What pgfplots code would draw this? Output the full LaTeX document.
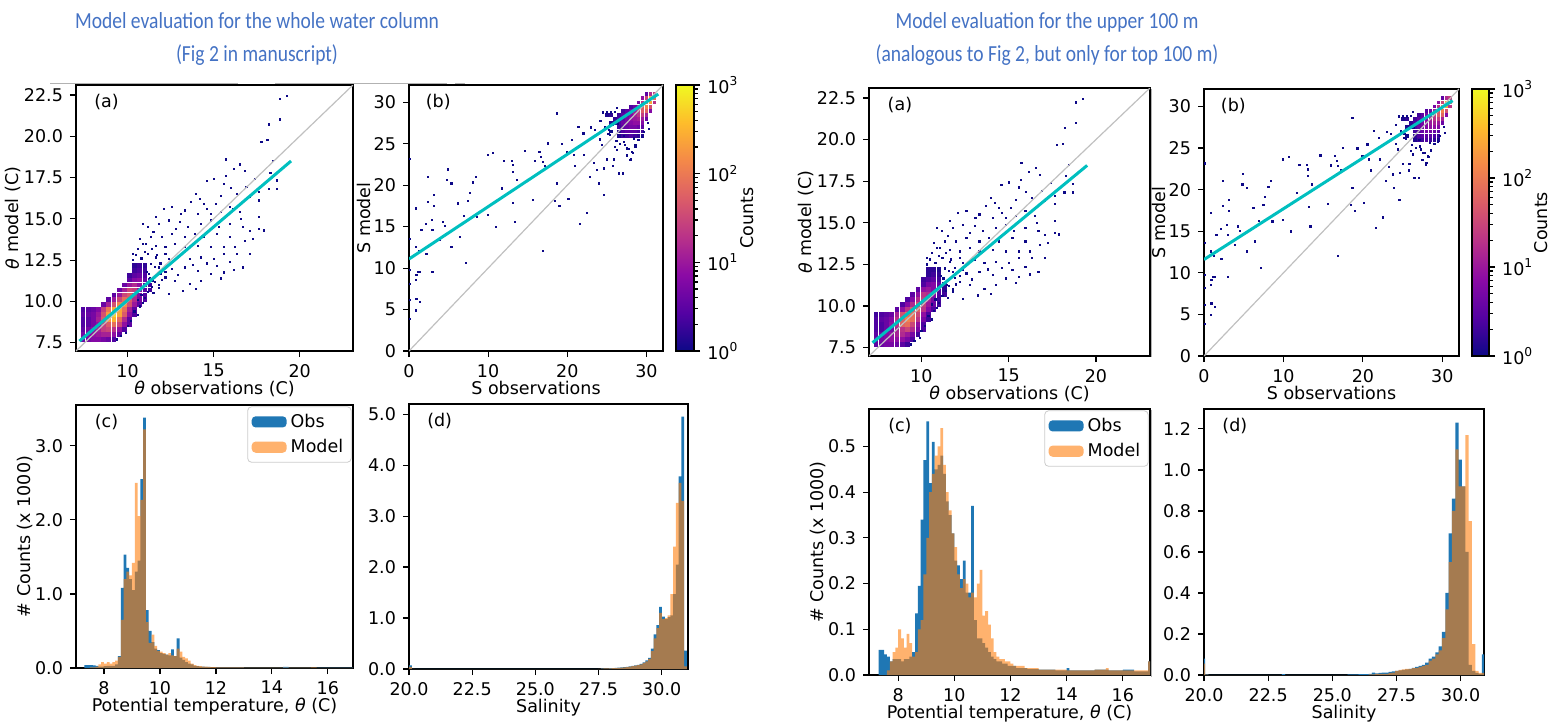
\documentclass[border=0pt]{standalone}
\usepackage{fontspec}
\setmainfont{DejaVu Sans}
\newfontfamily\titlefont{Carlito}
\usepackage{pgfplots}
\usepackage{pgfplotstable}
\pgfplotsset{compat=1.18}

\definecolor{obsblue}{RGB}{31,119,180}
\definecolor{modorange}{RGB}{255,127,14}
\definecolor{fitcyan}{RGB}{0,191,191}
\definecolor{oneone}{RGB}{192,192,192}
\definecolor{titleblue}{RGB}{68,114,196}
\definecolor{plasmalow}{RGB}{13,8,135}

\newcommand{\fs}{\fontsize{8.75}{10}\selectfont}
\newcommand{\tfs}{\titlefont\fontsize{11.5}{13}\selectfont}
\newcommand{\ttl}[1]{\scalebox{0.85}[1]{#1}}

\pgfplotsset{
  colormap={plasma}{rgb255=(13,8,135) rgb255=(84,2,163) rgb255=(139,10,165) rgb255=(185,50,137) rgb255=(219,92,104) rgb255=(244,136,73) rgb255=(254,188,43) rgb255=(240,249,33)},
  panel/.style={scale only axis, anchor=south west, tick pos=left, tick align=outside,
    major tick length=3pt, every tick/.style={black, line width=0.6pt},
    axis line style={line width=0.8pt}, tick label style={font=\fs}, label style={font=\fs},
    xlabel shift=-5pt, ylabel shift=-5.5pt, clip marker paths=true,
    /pgf/number format/assume math mode=true, scaled ticks=false},
  onedec/.style={#1ticklabel style={/pgf/number format/.cd, fixed, fixed zerofill, precision=1}},
  colorbar shift/.style={xshift=6pt},
  cbar/.style={colorbar, point meta min=0, point meta max=3,
    colorbar style={width=#1, scale only axis,
      ytick={0,1,2,3}, yticklabels={10\textsuperscript{0},10\textsuperscript{1},10\textsuperscript{2},10\textsuperscript{3}},
      minor ytick={0.301,0.477,0.602,0.699,0.778,0.845,0.903,0.954,1.301,1.477,1.602,1.699,1.778,1.845,1.903,1.954,2.301,2.477,2.602,2.699,2.778,2.845,2.903,2.954},
      ytick pos=right, yticklabel pos=right, tick align=outside, major tick length=3pt, minor tick length=1.8pt,
      every tick/.style={black, line width=0.6pt}, axis line style={line width=0.8pt},
      tick label style={font=\fs}, ylabel={Counts}, ylabel style={font=\fs}, ylabel shift=-6pt}},
  dens/.style={scatter, only marks, mark=square*, mark size=#1, scatter src=explicit,
    scatter/use mapped color={draw=mapped color, fill=mapped color}},
  lone/.style={only marks, mark=square*, mark size=0.3pt, plasmalow},
  hleg/.style={legend style={at={(0.995,0.995)}, anchor=north east, draw=black!20, rounded corners=2pt,
    font=\fs, inner xsep=2pt, inner ysep=1.5pt, row sep=0.5pt}, legend cell align=left},
  obsbar/.style={ybar interval, fill=obsblue, draw=none,
    legend image code/.code={\fill[fill=obsblue] (0pt,-2.8pt) rectangle (17.5pt,2.8pt);}},
  modbar/.style={ybar interval, fill=modorange, fill opacity=0.6, draw=none,
    legend image code/.code={\fill[fill=modorange, fill opacity=0.6] (0pt,-2.8pt) rectangle (17.5pt,2.8pt);}},
}

% theta 2D histogram, dense part (x, y, log10 count whole column, top 100 m)
\pgfplotstableread{
x y cl cr
7.4 7.7 0.6 0.5
7.7 7.7 0.7 0.6
8.0 7.7 0.8 0.7
8.3 7.7 0.8 0.7
8.6 7.7 0.7 0.6
8.9 7.7 0.6 0.5
9.2 7.7 0.4 0.3
7.4 8.0 0.7 0.6
7.7 8.0 0.8 0.7
8.0 8.0 0.9 0.8
8.3 8.0 1.0 0.9
8.6 8.0 1.1 0.9
8.9 8.0 1.1 0.9
9.2 8.0 0.9 0.7
9.5 8.0 0.5 0.4
7.4 8.3 0.5 0.5
7.7 8.3 0.7 0.6
8.0 8.3 0.9 0.8
8.3 8.3 1.1 0.9
8.6 8.3 1.4 1.1
8.9 8.3 1.5 1.2
9.2 8.3 1.3 1.0
9.5 8.3 0.9 0.7
9.8 8.3 0.4 0.3
7.4 8.6 0.4 0.4
7.7 8.6 0.5 0.4
8.0 8.6 0.7 0.6
8.3 8.6 0.9 0.7
8.6 8.6 1.4 1.1
8.9 8.6 1.7 1.3
9.2 8.6 1.9 1.5
9.5 8.6 1.5 1.2
9.8 8.6 0.9 0.7
10.1 8.6 0.5 0.4
7.4 8.9 0.4 0.4
7.7 8.9 0.5 0.4
8.0 8.9 0.7 0.6
8.3 8.9 1.1 0.9
8.6 8.9 1.7 1.3
8.9 8.9 2.3 1.8
9.2 8.9 2.5 1.9
9.5 8.9 1.9 1.5
9.8 8.9 1.2 0.9
10.1 8.9 0.5 0.4
7.4 9.2 0.5 0.4
7.7 9.2 0.6 0.5
8.0 9.2 0.7 0.6
8.3 9.2 1.0 0.8
8.6 9.2 1.6 1.3
8.9 9.2 2.3 1.8
9.2 9.2 2.8 2.1
9.5 9.2 2.4 1.9
9.8 9.2 1.7 1.3
10.1 9.2 0.9 0.7
10.4 9.2 0.4 0.3
7.4 9.5 0.4 0.3
7.7 9.5 0.5 0.4
8.0 9.5 0.6 0.5
8.3 9.5 0.8 0.6
8.6 9.5 1.4 1.1
8.9 9.5 2.0 1.6
9.2 9.5 2.4 1.9
9.5 9.5 2.4 1.9
9.8 9.5 1.9 1.5
10.1 9.5 1.1 0.9
10.4 9.5 0.5 0.4
8.6 9.8 0.6 0.5
8.9 9.8 1.1 0.9
9.2 9.8 1.6 1.3
9.5 9.8 2.1 1.7
9.8 9.8 2.2 1.8
10.1 9.8 1.6 1.3
10.4 9.8 1.0 0.8
10.7 9.8 0.5 0.4
8.9 10.1 0.5 0.4
9.2 10.1 1.0 0.8
9.5 10.1 1.5 1.2
9.8 10.1 1.9 1.6
10.1 10.1 1.7 1.4
10.4 10.1 1.2 1.0
10.7 10.1 0.7 0.6
11.0 10.1 0.4 0.3
9.2 10.4 0.5 0.4
9.5 10.4 1.0 0.8
9.8 10.4 1.5 1.2
10.1 10.4 1.7 1.4
10.4 10.4 1.3 1.1
10.7 10.4 0.8 0.7
11.0 10.4 0.4 0.3
9.5 10.7 0.6 0.5
9.8 10.7 1.1 0.9
10.1 10.7 1.5 1.3
10.4 10.7 1.4 1.2
10.7 10.7 0.9 0.8
11.0 10.7 0.5 0.4
11.3 10.7 0.3 0.3
9.8 11.0 0.6 0.5
10.1 11.0 1.0 0.9
10.4 11.0 1.2 1.0
10.7 11.0 0.9 0.8
11.0 11.0 0.5 0.4
11.3 11.0 0.3 0.2
10.1 11.3 0.5 0.4
10.4 11.3 0.8 0.7
10.7 11.3 0.9 0.8
11.0 11.3 0.6 0.5
11.3 11.3 0.3 0.2
10.1 11.6 0.3 0.3
10.4 11.6 0.5 0.4
10.7 11.6 0.6 0.5
11.0 11.6 0.4 0.3
10.4 11.9 0.3 0.2
10.7 11.9 0.4 0.3
11.0 11.9 0.3 0.2
10.4 12.2 0.2 0.2
10.7 12.2 0.3 0.2
11.0 12.2 0.2 0.1
}\denseA

% theta 2D histogram, single counts
\pgfplotstableread{
x y
19.25 22.44
18.87 22.24
18.87 21.02
18.21 20.72
18.12 19.76
17.78 19.66
18.46 18.50
15.73 18.60
16.18 18.04
16.54 18.30
16.80 17.90
15.70 17.60
14.59 17.29
15.00 17.43
15.58 17.13
16.00 16.87
16.90 16.93
17.65 16.62
18.20 16.83
18.70 17.33
18.70 16.83
13.98 16.52
16.33 16.52
17.10 16.32
17.65 16.12
13.70 16.01
14.45 15.91
15.11 15.91
15.96 15.71
16.15 15.61
12.58 15.71
12.10 15.61
13.33 15.51
14.08 15.30
14.83 15.30
15.40 15.41
16.52 15.41
17.65 15.10
11.63 15.10
10.88 14.70
11.17 14.50
11.82 14.70
12.39 14.90
13.05 14.80
13.52 14.50
14.27 14.70
14.83 14.90
15.30 14.50
15.96 14.70
16.71 14.50
17.09 14.29
17.65 14.39
17.27 13.78
16.80 13.68
15.96 13.89
15.21 14.09
14.45 13.89
13.89 14.09
13.33 13.89
12.58 14.09
12.00 13.89
11.35 13.89
11.07 13.48
11.64 13.38
12.20 13.28
12.76 13.48
13.33 13.28
14.08 13.38
14.83 13.28
15.58 13.28
16.24 13.28
16.33 12.87
15.58 12.87
15.02 12.57
14.27 12.67
13.61 12.57
13.05 12.77
12.39 12.57
11.64 12.67
11.35 12.26
11.82 12.06
12.58 11.96
13.33 12.06
14.08 11.86
14.83 11.66
15.58 11.76
15.96 12.37
14.27 11.25
13.61 11.05
12.76 11.25
13.23 10.64
13.98 10.74
12.39 10.44
11.82 10.84
11.45 11.25
12.20 11.45
11.26 11.66
15.21 12.16
17.09 12.87
16.71 12.06
15.40 11.40
16.20 11.90
17.90 14.30
18.30 17.80
17.40 17.40
14.20 16.20
15.40 16.40
16.60 15.00
14.60 15.60
13.10 15.30
12.80 14.40
11.50 14.20
12.20 12.90
13.80 12.20
14.60 12.30
12.90 11.60
11.90 11.70
10.60 10.10
10.80 10.40
11.00 10.20
11.20 10.60
11.40 10.90
10.90 10.90
11.60 11.20
11.80 11.00
11.30 11.40
11.10 11.80
10.70 9.70
10.90 9.90
11.50 10.50
12.00 11.30
12.20 11.80
11.90 12.30
11.60 12.10
10.80 12.60
11.00 13.00
10.60 13.20
10.90 13.50
11.20 12.90
10.50 12.80
10.30 12.90
10.70 13.80
11.40 13.20
10.40 9.40
10.60 9.20
10.20 8.80
10.00 8.50
9.90 8.10
9.60 7.90
9.40 7.70
12.40 12.20
11.70 12.80
10.30 12.50
}\sparseA

% salinity 2D histogram, dense part
\pgfplotstableread{
x y cl cr
26.5 26.0 0.1 0.1
27.0 26.0 0.3 0.3
27.5 26.0 0.3 0.3
28.0 26.0 0.4 0.4
28.5 26.0 0.3 0.3
29.0 26.0 0.2 0.2
29.5 26.0 0.1 0.1
25.5 26.5 0.0 0.0
26.5 26.5 0.2 0.2
27.0 26.5 0.4 0.4
27.5 26.5 0.5 0.5
28.0 26.5 0.5 0.5
28.5 26.5 0.5 0.5
29.0 26.5 0.4 0.4
29.5 26.5 0.3 0.3
26.5 27.0 0.3 0.3
27.0 27.0 0.5 0.5
27.5 27.0 0.6 0.6
28.0 27.0 0.7 0.7
28.5 27.0 0.7 0.7
29.0 27.0 0.6 0.6
29.5 27.0 0.5 0.5
25.5 27.5 0.1 0.1
26.0 27.5 0.2 0.2
26.5 27.5 0.4 0.4
27.0 27.5 0.6 0.6
27.5 27.5 0.7 0.7
28.0 27.5 0.8 0.8
28.5 27.5 0.9 0.9
29.0 27.5 0.9 0.9
29.5 27.5 0.8 0.8
26.0 28.0 0.2 0.2
26.5 28.0 0.4 0.4
27.0 28.0 0.5 0.5
27.5 28.0 0.7 0.7
28.0 28.0 0.9 0.9
28.5 28.0 1.0 1.0
29.0 28.0 1.1 1.1
29.5 28.0 1.0 1.0
30.0 28.0 0.6 0.6
25.0 28.5 0.1 0.1
25.5 28.5 0.2 0.2
26.5 28.5 0.3 0.3
27.0 28.5 0.5 0.5
27.5 28.5 0.6 0.6
28.0 28.5 0.8 0.8
28.5 28.5 1.1 1.1
29.0 28.5 1.3 1.3
29.5 28.5 1.4 1.4
30.0 28.5 1.1 1.1
27.0 29.0 0.3 0.3
27.5 29.0 0.5 0.5
28.0 29.0 0.7 0.7
28.5 29.0 1.0 1.0
29.0 29.0 1.4 1.4
29.5 29.0 1.7 1.7
30.0 29.0 1.8 1.8
30.5 29.0 0.8 0.8
28.0 29.5 0.4 0.4
28.5 29.5 0.6 0.6
29.0 29.5 1.1 1.1
29.5 29.5 1.7 1.7
30.0 29.5 2.1 2.1
30.5 29.5 1.6 1.6
29.0 30.0 0.7 0.7
29.5 30.0 1.3 1.3
30.0 30.0 2.1 2.1
30.5 30.0 2.4 2.4
31.0 30.0 1.3 1.3
29.5 30.5 0.9 0.9
30.0 30.5 1.5 1.5
30.5 30.5 2.6 2.6
31.0 30.5 1.9 1.9
30.0 31.0 0.5 0.5
30.5 31.0 1.2 1.2
31.0 31.0 1.4 1.4
}\denseB

% salinity 2D histogram, single counts
\pgfplotstableread{
x y
0.08 23.16
0.08 13.57
0.08 9.75
0.08 8.14
0.08 6.12
0.08 3.90
0.84 17.20
0.84 12.57
0.93 9.14
1.14 9.54
0.84 8.54
0.93 6.32
0.84 4.91
1.35 5.92
1.35 9.54
1.27 12.08
1.56 14.58
2.11 15.30
2.20 11.68
2.41 21.02
2.41 18.00
2.96 14.58
2.92 15.79
3.13 18.81
3.13 17.48
2.96 9.54
4.31 15.59
4.52 15.06
3.89 13.37
4.94 21.91
4.82 20.62
5.37 20.22
5.37 12.57
6.21 17.80
6.42 13.77
7.18 10.63
6.93 16.27
7.48 18.12
7.69 19.09
8.11 20.34
8.41 21.02
8.62 16.19
9.93 16.39
9.93 23.64
10.65 23.92
10.98 14.98
11.70 19.61
12.00 22.96
12.97 22.96
13.10 22.43
13.10 21.63
13.18 17.88
13.39 15.59
13.60 20.62
14.66 24.12
15.63 18.28
15.93 22.92
16.48 24.04
16.69 23.44
16.90 22.84
17.19 22.31
16.90 12.08
17.53 25.05
18.46 18.12
18.67 28.67
18.67 20.22
19.01 17.48
19.31 24.97
19.94 24.04
20.15 18.40
20.57 25.45
20.79 23.64
21.00 22.31
21.42 27.06
21.63 15.38
22.05 26.26
22.14 23.64
22.48 16.67
22.90 21.02
22.98 26.98
23.32 22.71
23.53 26.66
23.74 21.83
23.95 20.22
24.17 25.53
24.38 24.85
24.59 18.81
24.67 22.03
25.01 23.12
25.22 26.66
25.43 26.06
25.77 22.31
25.86 23.12
26.07 24.65
26.28 24.24
26.36 27.47
26.49 21.43
27.04 21.43
27.12 25.94
27.33 24.85
27.55 24.45
27.97 23.04
28.31 23.92
28.60 24.65
28.47 25.65
29.66 26.46
24.50 28.80
25.00 28.80
25.50 28.80
26.00 28.90
26.30 29.30
25.80 27.30
24.80 27.00
25.20 26.20
26.20 25.40
27.20 25.20
27.80 24.40
28.20 24.00
28.60 24.80
29.00 25.50
29.40 25.80
28.00 23.20
27.50 23.60
26.70 25.00
24.20 27.80
30.20 27.50
30.30 26.80
}\sparseB

\begin{document}
\begin{tikzpicture}
\useasboundingbox (0,0) rectangle (776.5pt,362.5pt);

% titles
\node[font=\tfs, text=titleblue, anchor=base] at (128.5pt,348.5pt) {\ttl{Model evaluation for the whole water column}};
\node[font=\tfs, text=titleblue, anchor=base] at (128.5pt,331.5pt) {\ttl{(Fig 2 in manuscript)}};
\node[font=\tfs, text=titleblue, anchor=base] at (523.5pt,348.5pt) {\ttl{Model evaluation for the upper 100 m}};
\node[font=\tfs, text=titleblue, anchor=base] at (523.5pt,331.5pt) {\ttl{(analogous to Fig 2, but only for top 100 m)}};

% stray edges from the original screenshot
\draw[black!30, line width=0.5pt] (25pt,320.6pt) -- (119pt,320.6pt) (137.5pt,320.6pt) -- (223.5pt,320.6pt) (227.5pt,320.6pt) -- (232.5pt,320.6pt);
\draw[black!30, line width=0.5pt] (575.6pt,318pt) -- (575.6pt,184pt) (575.6pt,157.5pt) -- (575.6pt,24pt);

%% ---------------- left group: whole water column ----------------
\begin{axis}[panel, at={(38pt,187pt)}, width=138.5pt, height=133pt,
  xmin=7, xmax=23.1, ymin=7, ymax=23.1, xtick={10,15,20}, ytick={7.5,10,...,22.5}, onedec=y,
  point meta min=0, point meta max=3,
  xlabel={\textit{θ} observations (C)}, ylabel={\textit{θ} model (C)}]
\addplot[dens=0.95pt] table[x=x, y=y, meta=cl] {\denseA};
\addplot[lone] table[x=x, y=y] {\sparseA};
\addplot[oneone, line width=0.6pt] coordinates {(7,7) (23.1,23.1)};
\addplot[fitcyan, line width=1.5pt] coordinates {(7.2,7.6) (19.5,18.5)};
\node[font=\fs] at (rel axis cs:0.11,0.935) {(a)};
\end{axis}

\begin{axis}[panel, at={(204.5pt,187pt)}, width=127pt, height=133pt, cbar=9pt,
  xmin=0, xmax=32.1, ymin=0, ymax=32.1, xtick={0,10,20,30}, ytick={0,5,...,30},
  xlabel={S observations}, ylabel={S model}]
\addplot[dens=0.7pt] table[x=x, y=y, meta=cl] {\denseB};
\addplot[lone] table[x=x, y=y] {\sparseB};
\addplot[oneone, line width=0.6pt] coordinates {(0,0) (32.1,32.1)};
\addplot[fitcyan, line width=1.5pt] coordinates {(0,11.1) (31.5,31.0)};
\node[font=\fs] at (rel axis cs:0.115,0.935) {(b)};
\end{axis}

\begin{axis}[panel, hleg, at={(38pt,28.5pt)}, width=138.5pt, height=131.5pt,
  xmin=7, xmax=16.9, ymin=0, ymax=3.55, xtick={8,10,...,16}, ytick={0,1,2,3}, onedec=y,
  xlabel={Potential temperature, \textit{θ} (C)}, ylabel={\# Counts (x 1000)}]
\addplot[obsbar] coordinates {(7.3,0.04)(7.4,0.04)(7.5,0.04)(7.6,0.035)(7.7,0.03)(7.8,0.02)(7.9,0.02)(8.0,0.025)(8.1,0.03)(8.2,0.03)(8.3,0.03)(8.4,0.05)(8.5,0.16)(8.6,1.08)(8.7,1.53)(8.8,1.35)(8.9,1.2)(9.0,1.05)(9.1,1.3)(9.2,1.45)(9.3,2.55)(9.4,3.38)(9.5,0.78)(9.6,0.5)(9.7,0.35)(9.8,0.26)(9.9,0.24)(10.0,0.2)(10.1,0.19)(10.2,0.18)(10.3,0.17)(10.4,0.25)(10.5,0.16)(10.6,0.4)(10.7,0.14)(10.8,0.11)(10.9,0.08)(11.0,0.06)(11.1,0.05)(11.2,0.03)(11.3,0.025)(11.4,0.02)(11.5,0.02)(11.6,0.015)(11.8,0.01)(12.0,0.008)(13.0,0.005)(14.4,0.015)(14.6,0.004)(16.9,0.004)(17.0,0)};
\addlegendentry{Obs}
\addplot[modbar] coordinates {(7.3,0)(7.5,0.01)(7.7,0.02)(7.8,0.05)(7.9,0.08)(8.0,0.06)(8.1,0.08)(8.2,0.06)(8.3,0.08)(8.4,0.1)(8.5,0.15)(8.6,0.65)(8.7,1.2)(8.8,1.3)(8.9,1.25)(9.0,1.42)(9.1,2.5)(9.2,2.05)(9.3,2.27)(9.4,3.22)(9.5,0.62)(9.6,0.34)(9.7,0.45)(9.8,0.3)(9.9,0.23)(10.0,0.22)(10.1,0.2)(10.2,0.18)(10.3,0.2)(10.4,0.17)(10.5,0.16)(10.6,0.26)(10.7,0.22)(10.8,0.15)(10.9,0.13)(11.0,0.1)(11.1,0.06)(11.2,0.04)(11.3,0.03)(11.4,0.025)(11.5,0.02)(11.6,0.02)(11.7,0.015)(11.8,0.012)(12.0,0.01)(13.0,0.006)(14.0,0.004)(15.4,0.01)(15.6,0.003)(16.9,0.003)(17.0,0)};
\addlegendentry{Model}
\node[font=\fs] at (rel axis cs:0.11,0.935) {(c)};
\end{axis}

\begin{axis}[panel, at={(204.5pt,28pt)}, width=139.5pt, height=132.5pt,
  xmin=20, xmax=31.04, ymin=0, ymax=5.2, xtick={20,22.5,...,30}, ytick={0,1,...,5}, onedec=x, onedec=y,
  xlabel={Salinity}]
\addplot[obsbar] coordinates {(20.00,0.07)(20.11,0.005)(20.22,0.001)(27.48,0.005)(27.59,0.01)(27.70,0.012)(27.81,0.012)(27.92,0.015)(28.03,0.018)(28.14,0.02)(28.25,0.025)(28.36,0.03)(28.47,0.035)(28.58,0.04)(28.69,0.05)(28.80,0.06)(28.91,0.07)(29.02,0.08)(29.13,0.10)(29.24,0.13)(29.35,0.17)(29.46,0.22)(29.57,0.40)(29.68,0.68)(29.79,0.86)(29.90,1.22)(30.01,1.03)(30.12,0.98)(30.23,1.02)(30.34,1.05)(30.45,1.47)(30.56,2.05)(30.67,3.78)(30.78,4.95)(30.89,0.36)(31.00,0)};
\addplot[modbar] coordinates {(20.00,0.04)(20.11,0.003)(20.22,0)(27.48,0.004)(27.59,0.008)(27.70,0.01)(27.81,0.01)(27.92,0.012)(28.03,0.015)(28.14,0.018)(28.25,0.02)(28.36,0.025)(28.47,0.03)(28.58,0.035)(28.69,0.045)(28.80,0.055)(28.91,0.065)(29.02,0.075)(29.13,0.09)(29.24,0.12)(29.35,0.15)(29.46,0.20)(29.57,0.35)(29.68,0.60)(29.79,0.80)(29.90,1.10)(30.01,0.98)(30.12,1.00)(30.23,1.05)(30.34,1.47)(30.45,2.40)(30.56,3.26)(30.67,3.65)(30.78,3.30)(30.89,0.05)(31.00,0)};
\node[font=\fs] at (rel axis cs:0.11,0.935) {(d)};
\end{axis}

%% ---------------- right group: upper 100 m ----------------
\begin{axis}[panel, at={(434.5pt,184.5pt)}, width=140.5pt, height=134pt,
  xmin=7, xmax=23.1, ymin=7, ymax=23.1, xtick={10,15,20}, ytick={7.5,10,...,22.5}, onedec=y,
  point meta min=0, point meta max=3,
  xlabel={\textit{θ} observations (C)}, ylabel={\textit{θ} model (C)}]
\addplot[dens=0.95pt] table[x=x, y=y, meta=cr] {\denseA};
\addplot[lone] table[x=x, y=y] {\sparseA};
\addplot[oneone, line width=0.6pt] coordinates {(7,7) (23.1,23.1)};
\addplot[fitcyan, line width=1.5pt] coordinates {(7.2,7.8) (19.5,18.45)};
\node[font=\fs] at (rel axis cs:0.11,0.935) {(a)};
\end{axis}

\begin{axis}[panel, at={(602pt,184.5pt)}, width=127.5pt, height=133.5pt, cbar=8.5pt,
  xmin=0, xmax=32.1, ymin=0, ymax=32.1, xtick={0,10,20,30}, ytick={0,5,...,30},
  xlabel={S observations}, ylabel={S model}]
\addplot[dens=0.7pt] table[x=x, y=y, meta=cr] {\denseB};
\addplot[lone] table[x=x, y=y] {\sparseB};
\addplot[oneone, line width=0.6pt] coordinates {(0,0) (32.1,32.1)};
\addplot[fitcyan, line width=1.5pt] coordinates {(0,11.6) (31.3,30.7)};
\node[font=\fs] at (rel axis cs:0.115,0.935) {(b)};
\end{axis}

\begin{axis}[panel, hleg, at={(434.5pt,25pt)}, width=140.5pt, height=133pt,
  xmin=6.96, xmax=16.97, ymin=0, ymax=0.582, xtick={8,10,...,16}, ytick={0,0.1,...,0.5}, onedec=y,
  xlabel={Potential temperature, \textit{θ} (C)}, ylabel={\# Counts (x 1000)}]
\addplot[obsbar] coordinates {(7.3,0.055)(7.4,0.055)(7.5,0.045)(7.6,0.04)(7.7,0.03)(7.8,0.035)(7.9,0.035)(8.0,0.035)(8.1,0.03)(8.2,0.035)(8.3,0.035)(8.4,0.04)(8.5,0.05)(8.6,0.135)(8.7,0.195)(8.8,0.34)(8.9,0.47)(9.0,0.555)(9.1,0.42)(9.2,0.51)(9.3,0.45)(9.4,0.46)(9.5,0.48)(9.6,0.44)(9.7,0.38)(9.8,0.35)(9.9,0.31)(10.0,0.25)(10.1,0.24)(10.2,0.21)(10.3,0.25)(10.4,0.18)(10.5,0.18)(10.6,0.37)(10.7,0.12)(10.8,0.08)(10.9,0.08)(11.0,0.07)(11.1,0.06)(11.2,0.05)(11.3,0.04)(11.4,0.035)(11.5,0.03)(11.6,0.03)(11.7,0.025)(11.8,0.025)(11.9,0.02)(12.0,0.02)(12.2,0.015)(12.6,0.013)(13.0,0.012)(13.6,0.01)(14.0,0.015)(14.1,0.01)(15.0,0.012)(15.5,0.01)(16.0,0.012)(16.4,0.008)(16.9,0.03)(17.0,0)};
\addlegendentry{Obs}
\addplot[modbar] coordinates {(7.3,0)(7.6,0.01)(7.7,0.03)(7.8,0.05)(7.9,0.06)(8.0,0.10)(8.1,0.08)(8.2,0.06)(8.3,0.09)(8.4,0.07)(8.5,0.04)(8.6,0.05)(8.7,0.10)(8.8,0.12)(8.9,0.22)(9.0,0.30)(9.1,0.40)(9.2,0.44)(9.3,0.48)(9.4,0.50)(9.5,0.54)(9.6,0.46)(9.7,0.40)(9.8,0.36)(9.9,0.31)(10.0,0.28)(10.1,0.22)(10.2,0.19)(10.3,0.21)(10.4,0.20)(10.5,0.17)(10.6,0.18)(10.7,0.17)(10.8,0.20)(10.9,0.23)(11.0,0.13)(11.1,0.14)(11.2,0.11)(11.3,0.08)(11.4,0.05)(11.5,0.04)(11.6,0.035)(11.7,0.035)(11.8,0.03)(11.9,0.03)(12.0,0.025)(12.1,0.02)(12.5,0.015)(13.0,0.012)(14.0,0.01)(15.0,0.012)(15.4,0.015)(15.5,0.01)(16.9,0.03)(17.0,0)};
\addlegendentry{Model}
\node[font=\fs] at (rel axis cs:0.11,0.935) {(c)};
\end{axis}

\begin{axis}[panel, at={(602pt,25pt)}, width=140pt, height=133pt,
  xmin=20, xmax=30.91, ymin=0, ymax=1.297, xtick={20,22.5,...,30}, ytick={0,0.2,...,1.2}, onedec=x, onedec=y,
  xlabel={Salinity}]
\addplot[obsbar] coordinates {(19.91,0.08)(20.04,0.003)(20.17,0.001)(23.03,0.004)(23.16,0.001)(25.6,0.003)(26.02,0.004)(26.41,0.006)(26.54,0.012)(26.67,0.008)(26.80,0.01)(26.93,0.012)(27.06,0.012)(27.19,0.015)(27.32,0.018)(27.45,0.02)(27.58,0.022)(27.71,0.025)(27.84,0.028)(27.97,0.03)(28.10,0.035)(28.23,0.04)(28.36,0.045)(28.49,0.05)(28.62,0.06)(28.75,0.08)(28.88,0.09)(29.01,0.11)(29.14,0.14)(29.27,0.21)(29.40,0.40)(29.53,0.69)(29.66,0.86)(29.79,1.23)(29.92,1.05)(30.05,0.92)(30.18,0.60)(30.31,0.05)(30.44,0.02)(30.57,0.01)(30.70,0.005)(30.83,0.10)(30.96,0)};
\addplot[modbar] coordinates {(19.91,0.055)(20.04,0.002)(20.17,0)(26.41,0.003)(26.67,0.005)(27.19,0.01)(27.32,0.012)(27.45,0.02)(27.58,0.025)(27.71,0.028)(27.84,0.03)(27.97,0.03)(28.10,0.033)(28.23,0.035)(28.36,0.04)(28.49,0.045)(28.62,0.05)(28.75,0.07)(28.88,0.08)(29.01,0.10)(29.14,0.12)(29.27,0.18)(29.40,0.32)(29.53,0.55)(29.66,0.80)(29.79,1.10)(29.92,0.92)(30.05,0.92)(30.18,1.17)(30.31,0.75)(30.44,0.15)(30.57,0.02)(30.70,0.01)(30.83,0.01)(30.96,0)};
\node[font=\fs] at (rel axis cs:0.11,0.935) {(d)};
\end{axis}
\end{tikzpicture}
\end{document}
